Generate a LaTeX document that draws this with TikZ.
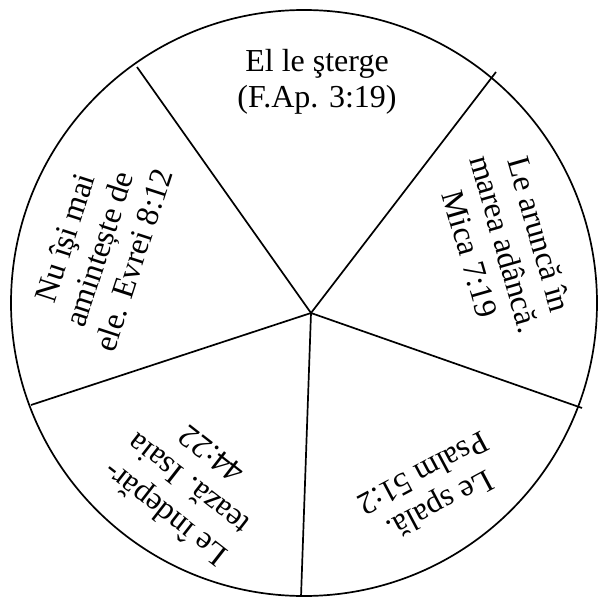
\documentclass[tikz,border=0pt]{standalone}
\usepackage{fontspec}
\setmainfont{Liberation Serif}
\usepackage{tikz}

\begin{document}
\begin{tikzpicture}[x=1pt, y=-1pt, line width=1.7pt,
  verse/.style={align=center, inner sep=0pt, font=\fontsize{32}{36}\selectfont}]
\useasboundingbox (0,0) rectangle (598,597);

\node[circle, draw, minimum size=586pt, inner sep=0pt] (wheel) at (304,303) {};

\coordinate (hub) at (311,313);
\coordinate (tl) at (137,67);
\coordinate (tr) at (496,72);
\coordinate (r)  at (582,408);
\coordinate (b)  at (301,597);
\coordinate (l)  at (31,405);

\foreach \e in {tl,tr,r,b,l}{
  \draw (hub) -- (\e);
}

\node[verse]             (sterge) at (317,82)  {El le şterge\\(F.Ap. 3:19)};
\node[verse, rotate=-74] (arunca) at (505,244) {Le aruncă în\\marea adâncă.\\Mica 7:19};
\node[verse, rotate=208] (spala)  at (432,490) {Le spală.\\Psalm 51:2};
\node[verse, rotate=142, font=\fontsize{32}{38}\selectfont] (departe) at (188,485) {Le îndepăr-\\tează. Isaia\\44:22};
\node[verse, rotate=72]  (uita)   at (99,249)  {Nu îşi mai\\amintește de\\ele. Evrei 8:12};
\end{tikzpicture}
\end{document}
